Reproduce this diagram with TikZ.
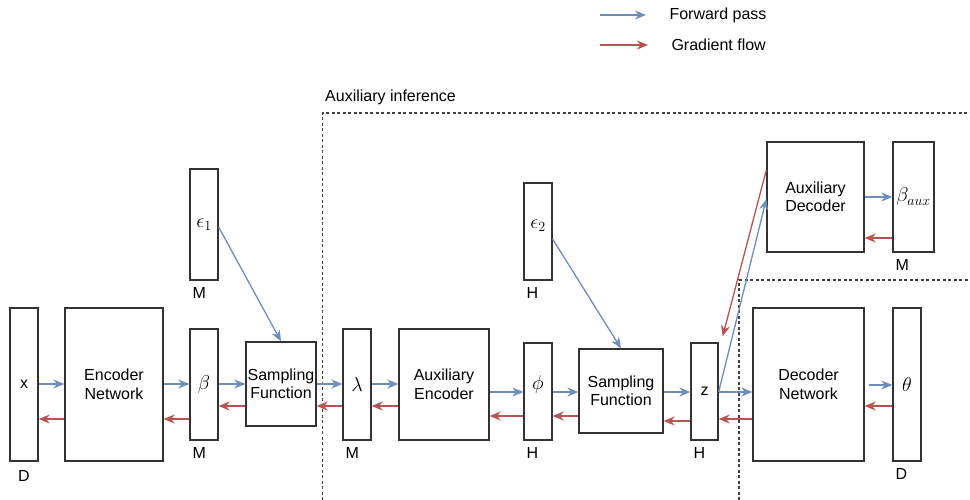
\RequirePackage{fix-cm}
\documentclass[tikz,border=0pt]{standalone}
\usepackage{fontspec}
\setmainfont{Liberation Sans}
\usetikzlibrary{arrows.meta}
\usetikzlibrary{positioning}

\definecolor{fwdblue}{HTML}{6C8EBF}
\definecolor{gradred}{HTML}{B85450}

\begin{document}
\begin{tikzpicture}[x=1pt, y=-1pt,
  every node/.style={font=\fontsize{16}{18.5}\selectfont},
  blk/.style={draw=black!80, line width=1.3pt, inner sep=0pt, align=center},
  sym/.style={font=\fontsize{20}{23}\selectfont},
  fwd/.style={draw=fwdblue, line width=1.3pt, -{Stealth[length=11pt, width=9pt, inset=3.5pt]}},
  grad/.style={fwd, draw=gradred},
  region/.style={draw=black!75, line width=1.4pt, dash pattern=on 3pt off 2.5pt}]
\useasboundingbox (0,0) rectangle (970,500);

% Legend
\coordinate (lgf1) at (600,15);
\coordinate (lgf2) at (646,15);
\coordinate (lgg1) at (600,45);
\coordinate (lgg2) at (648,45);
\draw[fwd] (lgf1) -- (lgf2);
\draw[grad] (lgg1) -- (lgg2);
\node (lgfwd) [anchor=west] at (666,15) {Forward pass};
\node (lggrad) [anchor=west] at (668,45) {Gradient flow};

% Dashed regions
\draw[region] (322.5,500) -- (322.5,113) -- (970,113);
\draw[region] (739,500) -- (739,280) -- (970,280);
\node (auxinf) [anchor=base west, inner sep=0pt] at (325,102) {Auxiliary inference};

% Blocks
\node (x) [blk, minimum width=28pt, minimum height=153pt] at (24,384.5) {x};
\node (enc) [blk, minimum width=98pt, minimum height=153pt] at (114,384.5) {Encoder\\Network};
\node (eps1) [blk, sym, minimum width=28pt, minimum height=111pt] at (204,224.5) {$\epsilon_1$};
\node (beta) [blk, sym, minimum width=28pt, minimum height=111pt] at (204,384.5) {$\beta$};
\node (samp1) [blk, minimum width=70pt, minimum height=84pt] at (281,384) {Sampling\\Function};
\node (lam) [blk, sym, minimum width=28pt, minimum height=111pt] at (357,384.5) {$\lambda$};
\node (auxenc) [blk, minimum width=90pt, minimum height=111pt] at (444,384.5) {Auxiliary\\Encoder};
\node (eps2) [blk, minimum width=28pt, minimum height=97pt] at (538,231.5) {};
\node (eps2-txt) [sym] at (538,226) {$\epsilon_2$};
\node (phi) [blk, minimum width=28pt, minimum height=97pt] at (538,391.5) {};
\node (phi-txt) [sym] at (538,384) {$\phi$};
\node (samp2) [blk, minimum width=84pt, minimum height=84pt] at (621,391) {Sampling\\Function};
\node (z) [blk, minimum width=27pt, minimum height=97pt] at (704.5,391.5) {z};
\node (auxdec) [blk, minimum width=97pt, minimum height=110pt] at (815.5,197) {Auxiliary\\Decoder};
\node (betaaux) [blk, sym, minimum width=41pt, minimum height=110pt] at (913.5,197) {$\beta_{aux}$};
\node (dec) [blk, minimum width=111pt, minimum height=153pt] at (808.5,384.5) {Decoder\\Network};
\node (theta) [blk, sym, minimum width=28pt, minimum height=153pt] at (907,384.5) {$\theta$};

% Sizes
\node (x-lbl) [below=9pt of x, inner sep=0pt] {D};
\foreach \n/\t in {eps1/M, beta/M, lam/M, eps2/H, phi/H, z/H, betaaux/M, theta/D}
  \node (\n-lbl) [anchor=north west, inner sep=0pt] at ([shift={(3,7)}]\n.south west) {\t};

% Forward pass
\foreach \a/\b/\y in {x/enc/384, enc/beta/384, beta/samp1/384, samp1/lam/384, lam/auxenc/384,
    auxenc/phi/392, phi/samp2/392, samp2/z/392, z/dec/392, auxdec/betaaux/197}
  \draw[fwd] (\a.east |- 0,\y) -- (\b.west |- 0,\y);
\draw[fwd, shorten <=4pt] (dec.east |- 0,385) -- (theta.west |- 0,385);
\draw[fwd] (eps1.east |- 0,227) -- (samp1.north);
\draw[fwd] (eps2.east |- 0,239) -- (samp2.north);
\draw[fwd] (z.east |- 0,392) -- (auxdec.west |- 0,199);

% Gradient flow
\foreach \a/\b/\y in {enc/x/419, beta/enc/419, samp1/beta/406, lam/samp1/406, auxenc/lam/406,
    phi/auxenc/416, samp2/phi/416, z/samp2/421, dec/z/419, theta/dec/406, betaaux/auxdec/238}
  \draw[grad] (\a.west |- 0,\y) -- (\b.east |- 0,\y);
\draw[grad] (auxdec.west |- 0,170) -- ([shift={(4,-6)}]z.north east);

\end{tikzpicture}
\end{document}
